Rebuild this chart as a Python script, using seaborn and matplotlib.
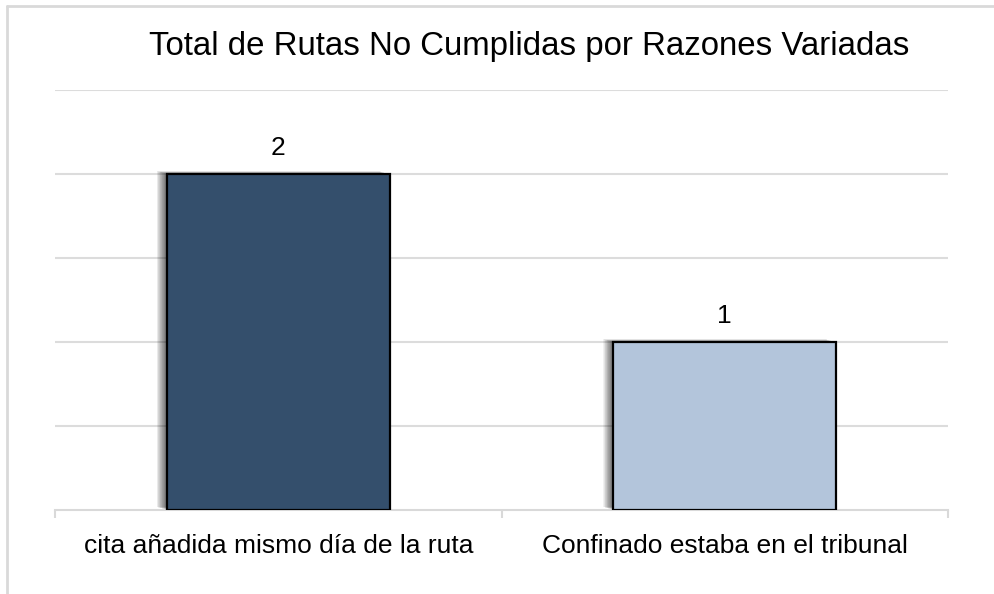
import matplotlib
matplotlib.use("Agg")
import matplotlib.pyplot as plt
import matplotlib.patheffects as pe
from matplotlib.lines import Line2D
import seaborn as sns
import pandas as pd

categories = ["cita añadida mismo día de la ruta", "Confinado estaba en el tribunal"]
values = [2, 1]
bar_colors = ["#344f6c", "#b3c5db"]
title = "Total de Rutas No Cumplidas por Razones Variadas"

sns.set_theme(style="white")
plt.rcParams["font.family"] = ["Liberation Sans", "DejaVu Sans"]

W, H = 995, 594
fig = plt.figure(figsize=(W / 100, H / 100), dpi=100)
ax = fig.add_axes([55 / W, 1 - 510 / H, (948 - 55) / W, (510 - 90) / H])

df = pd.DataFrame({"razon": categories, "total": values})
sns.barplot(data=df, x="razon", y="total", hue="razon", palette=bar_colors,
            legend=False, width=0.5, edgecolor="black", linewidth=1.6,
            saturation=1, ax=ax, zorder=3)

# soft shadow to the left of each bar, built from many faint offset copies
shadow = [pe.SimplePatchShadow(offset=(-0.28 * k, 0.08 * k), shadow_rgbFace="black",
                               alpha=0.028, rho=0) for k in range(1, 27)]
bars = [p for p in ax.patches if p.get_height() > 0]
for p in bars:
    p.set_path_effects(shadow + [pe.Normal()])
    ax.annotate(f"{p.get_height():g}", (p.get_x() + p.get_width() / 2, p.get_height()),
                xytext=(0, 10), textcoords="offset points", ha="center", va="bottom",
                fontsize=19, color="#000000")

ax.set_ylim(0, 2.5)
ax.set_xlim(-0.5, 1.5)
ax.set_yticks([0.5, 1.0, 1.5, 2.0, 2.5])
ax.set_yticklabels([])
ax.tick_params(axis="y", length=0)
ax.yaxis.grid(True, color="#dcdcdc", linewidth=1.5, zorder=0)
ax.set_axisbelow(True)

ax.set_xticks([0, 1])
ax.set_xticklabels(categories, fontsize=19, color="#000000")
ax.set_xticks([-0.5, 0.5, 1.5], minor=True)
ax.tick_params(axis="x", which="major", bottom=True, length=0, pad=17)
ax.tick_params(axis="x", which="minor", bottom=True, length=6, width=1.5,
               color="#d9d9d9", direction="out")
ax.set_xlabel("")
ax.set_ylabel("")

for s in ["top", "right", "left"]:
    ax.spines[s].set_visible(False)
ax.spines["bottom"].set_color("#d9d9d9")
ax.spines["bottom"].set_linewidth(1.5)

fig.text(529 / W, 1 - 47 / H, title, ha="center", va="center", fontsize=23.8, color="#000000")

# chart area frame
fig.add_artist(Line2D([7 / W, 1], [1 - 6 / H, 1 - 6 / H], color="#d9d9d9", linewidth=2))
fig.add_artist(Line2D([7 / W, 7 / W], [0, 1 - 6 / H], color="#d9d9d9", linewidth=2))

fig.savefig("out.png", dpi=100, facecolor="white")
